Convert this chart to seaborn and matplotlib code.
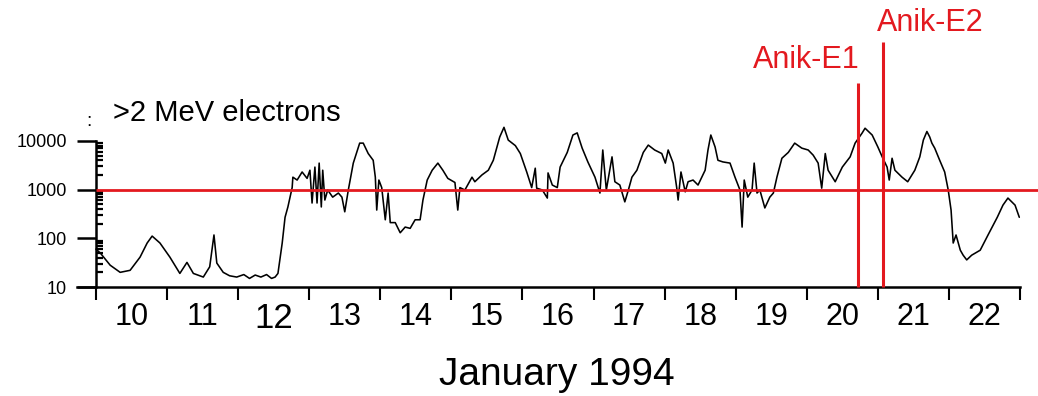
import pandas as pd
import seaborn as sns
import matplotlib.pyplot as plt

# >2 MeV electron flux, January 1994 (day of month, flux)
days = [
    10.00, 10.06, 10.20, 10.34, 10.48, 10.62, 10.72, 10.79, 10.90,
    11.04, 11.18, 11.28, 11.37, 11.51, 11.60, 11.66, 11.70, 11.79, 11.88, 11.98,
    12.08, 12.16, 12.24, 12.32, 12.40, 12.47, 12.52, 12.56, 12.62, 12.66, 12.70,
    12.76, 12.77, 12.83, 12.90, 12.97,
    13.01, 13.04, 13.08, 13.11, 13.14, 13.17, 13.19, 13.22, 13.26, 13.33, 13.41,
    13.46, 13.50, 13.55, 13.62, 13.71, 13.76, 13.83, 13.90, 13.93, 13.95, 13.98,
    14.02, 14.07, 14.11, 14.14, 14.21, 14.28, 14.35, 14.42, 14.49, 14.56, 14.60,
    14.66, 14.73, 14.81, 14.88, 14.95,
    15.05, 15.09, 15.12, 15.19, 15.29, 15.33, 15.43, 15.52, 15.59, 15.68, 15.74,
    15.80, 15.90, 15.97,
    16.06, 16.13, 16.18, 16.20, 16.28, 16.35, 16.36, 16.42, 16.49, 16.53, 16.63,
    16.71, 16.77, 16.84, 16.92,
    17.02, 17.09, 17.13, 17.18, 17.26, 17.30, 17.37, 17.44, 17.49, 17.54, 17.61,
    17.70, 17.77, 17.86, 17.96,
    18.01, 18.05, 18.12, 18.17, 18.19, 18.23, 18.29, 18.33, 18.40, 18.47, 18.57,
    18.61, 18.65, 18.71, 18.75, 18.82, 18.92, 18.99,
    19.06, 19.09, 19.12, 19.17, 19.23, 19.26, 19.30, 19.34, 19.41, 19.48, 19.53,
    19.58, 19.65, 19.74, 19.83, 19.93,
    20.02, 20.09, 20.16, 20.21, 20.26, 20.30, 20.40, 20.50, 20.61, 20.68, 20.78,
    20.82, 20.92,
    21.00, 21.07, 21.13, 21.16, 21.20, 21.24, 21.34, 21.42, 21.52, 21.59, 21.64,
    21.69, 21.73, 21.76, 21.80, 21.87, 21.94, 21.99,
    22.03, 22.06, 22.10, 22.16, 22.20, 22.25, 22.32, 22.44, 22.55, 22.68, 22.76,
    22.83, 22.93, 22.99,
]
flux = [
    60, 50, 28, 20, 22, 41, 80, 111, 80,
    41, 19, 32, 19, 16, 26, 117, 31, 20, 17, 16,
    18, 15, 17.6, 16, 18, 15, 16, 19, 80, 270, 440,
    1100, 1800, 1570, 2300, 1700,
    2500, 530, 2900, 530, 3500, 440, 2500, 610, 980, 700, 850,
    700, 350, 980, 3500, 9000, 9000, 5500, 4000, 1800, 380, 1570,
    1100, 240, 850, 210, 210, 130, 170, 160, 240, 240, 610,
    1570, 2500, 3500, 2500, 1700,
    1400, 380, 1100, 980, 1800, 1450, 2000, 2500, 4000, 12000, 19000,
    10400, 8000, 5500,
    2300, 1100, 2750, 1070, 980, 670, 2200, 1240, 1100, 2900, 5800,
    13200, 14600, 7100, 3700,
    1800, 850, 6500, 980, 4700, 1450, 1240, 560, 980, 1800, 2500,
    5800, 8200, 6500, 5500,
    3500, 6500, 3500, 1100, 610, 2300, 900, 1450, 1570, 1240, 2500,
    6500, 13200, 7500, 4000, 3700, 3500, 1800,
    980, 170, 1570, 700, 980, 3500, 850, 980, 420, 700, 850,
    1800, 4400, 5800, 9000, 7100,
    6500, 5100, 3500, 1070, 5500, 2500, 1450, 2900, 4700, 9000, 14600,
    18200, 13200,
    7500, 4400, 2900, 1570, 4400, 2500, 1800, 1450, 2500, 4700, 10400,
    15600, 12000, 9000, 7100, 4000, 2300, 980,
    380, 80, 117, 57, 45, 36, 45, 57, 117, 270, 480,
    670, 480, 270,
]

day_labels = ['10', '11', '12', '13', '14', '15', '16', '17', '18', '19', '20', '21', '22']
y_ticks = [10, 100, 1000, 10000]
threshold = 1000
anik_e1 = 20.72   # Anik-E1 failure
anik_e2 = 21.07   # Anik-E2 failure

df = pd.DataFrame({'day': days, 'flux': flux})
red = '#e3191f'

sns.set_style('ticks')
plt.rcParams['font.family'] = ['Liberation Sans', 'DejaVu Sans']
plt.rcParams['text.color'] = 'black'
plt.rcParams['xtick.color'] = 'black'
plt.rcParams['ytick.color'] = 'black'
plt.rcParams['axes.edgecolor'] = 'black'

W, H = 1038, 396
fig = plt.figure(figsize=(W / 100, H / 100), dpi=100)
ax = fig.add_axes([77 / W, 109 / H, 961 / W, 287 / H])
ax.set_yscale('log')

sns.lineplot(data=df, x='day', y='flux', sort=False, estimator=None,
             color='black', lw=1.15, ax=ax)

ax.set_xlim(9.733, 23.253)
ax.set_ylim(10, 10 ** 6.893)
ax.set_xlabel('')
ax.set_ylabel('')

# spines
for s in ['top', 'right']:
    ax.spines[s].set_visible(False)
ax.spines['left'].set_position(('data', 10))
ax.spines['left'].set_bounds(10, 10000)
ax.spines['bottom'].set_bounds(9.733, 23)
ax.spines['left'].set_linewidth(1.8)
ax.spines['bottom'].set_linewidth(1.8)

# y ticks
ax.set_yticks(y_ticks)
ax.set_yticklabels([str(t) for t in y_ticks])
minor_y = [k * 10 ** e for e in range(1, 4) for k in range(2, 10)]
ax.set_yticks(minor_y, minor=True)
ax.set_yticklabels([], minor=True)
ax.tick_params(axis='y', which='major', direction='out', length=14, width=1.8,
               labelsize=13, pad=7, colors='black')
ax.tick_params(axis='y', which='minor', direction='in', length=5, width=1.6,
               colors='black')

# x ticks: day boundaries, labels at mid-day
ax.set_xticks(range(10, 24))
ax.set_xticklabels([])
ax.set_xticks([int(d) + 0.5 for d in day_labels], minor=True)
ax.set_xticklabels(day_labels, minor=True)
ax.tick_params(axis='x', which='major', direction='out', length=9, width=1.5,
               colors='black')
ax.tick_params(axis='x', which='minor', length=0, labelsize=22, pad=11,
               colors='black')
ax.get_xticklabels(minor=True)[2].set_fontsize(25)

# threshold and satellite failure markers
ax.hlines(threshold, 10, 23.253, color=red, lw=2, zorder=3)
ax.vlines(anik_e1, 10, 1.55e5, color=red, lw=2.2, zorder=3, clip_on=False)
ax.vlines(anik_e2, 10, 1.07e6, color=red, lw=2.2, zorder=3, clip_on=False)

fig.text(806 / W, 1 - 60 / H, 'Anik-E1', color=red, fontsize=22,
         ha='center', va='center')
fig.text(930 / W, 1 - 23 / H, 'Anik-E2', color=red, fontsize=22,
         ha='center', va='center')
fig.text(113 / W, 1 - 113 / H, '>2 MeV electrons', fontsize=21,
         ha='left', va='center')
fig.text(89 / W, 1 - 121 / H, ':', fontsize=14, ha='center', va='center')
fig.text(557 / W, 1 - 375 / H, 'January 1994', fontsize=28,
         ha='center', va='center')

fig.savefig('out.png', dpi=100)
